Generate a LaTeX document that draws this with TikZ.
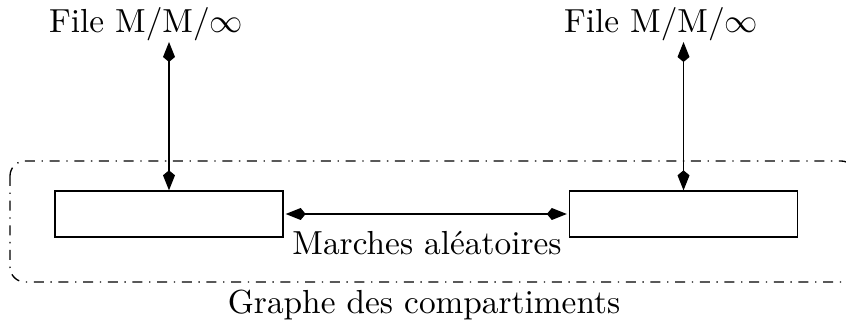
\documentclass[tikz,border=0pt]{standalone}
\usetikzlibrary{arrows.meta}
\begin{document}
\begin{tikzpicture}[x=0.3pt,y=-0.3pt,
  comp/.style={draw,line width=0.4pt,minimum width=68.4pt,minimum height=13.8pt,inner sep=0pt},
  lbl/.style={inner sep=0pt},
  kk/.style={{Kite[length=6pt,width=3.6pt,inset=1.5pt]}-{Kite[length=6pt,width=3.6pt,inset=1.5pt]},line width=0.4pt}]
\useasboundingbox (0,0) rectangle (846,327);
\draw[dash dot,rounded corners=4.5pt,line width=0.4pt] (10,161) rectangle (856,282);
\node[comp] (b1) at (169,214) {};
\node[comp] (b2) at (683.5,214) {};
\node[lbl] (f1) at (146,24) {File M/M/$\infty$};
\node[lbl] (f2) at (661,24) {File M/M/$\infty$};
\coordinate (t1) at (169,42);
\coordinate (t2) at (683.5,42);
\draw[kk] (t1) -- (b1.north);
\draw[kk] (t2) -- (b2.north);
\draw[kk,shorten <=0.6pt,shorten >=0.6pt] (b1.east) -- (b2.west);
\node[lbl] (m) at (427,243) {Marches aléatoires};
\node[lbl] (g) at (424,305) {Graphe des compartiments};
\end{tikzpicture}
\end{document}
